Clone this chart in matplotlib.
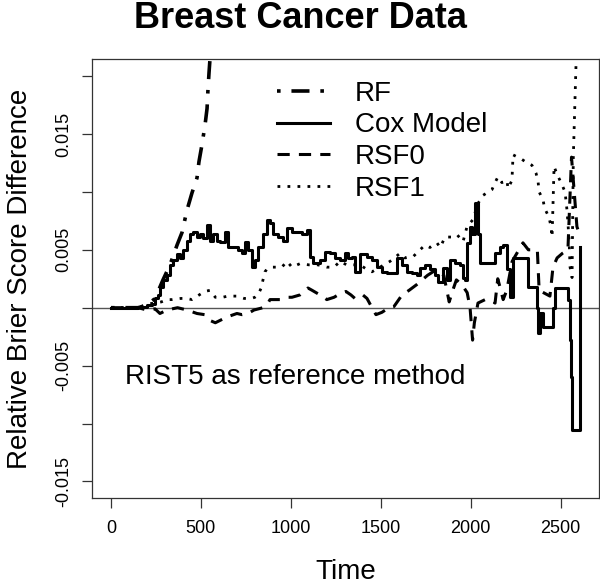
import matplotlib
matplotlib.use("Agg")
import matplotlib.pyplot as plt

plt.rcParams['font.family'] = ['Liberation Sans', 'DejaVu Sans']

# Cox model (step curve)
cox_t = [0, 100, 150, 200, 228, 245, 260, 272, 289, 311,
         328, 345, 367, 384, 400, 422, 439, 456, 478, 495,
         511, 534, 550, 567, 589, 606, 634, 650, 678, 706,
         728, 745, 762, 784, 800, 817, 845, 867, 884, 901,
         928, 956, 978, 1006, 1034, 1062, 1090, 1106, 1123, 1145,
         1162, 1190, 1217, 1245, 1273, 1301, 1317, 1340, 1356, 1384,
         1423, 1451, 1479, 1506, 1534, 1568, 1590, 1618, 1645, 1673,
         1701, 1718, 1745, 1773, 1801, 1818, 1846, 1868, 1885, 1912,
         1940, 1957, 1968, 1979, 1996, 2007, 2024, 2040, 2051, 2135,
         2162, 2179, 2201, 2218, 2235, 2318, 2368, 2374, 2385, 2402,
         2457, 2468, 2541, 2552, 2558, 2563, 2607]
cox_y = [0, 0, 0.0001, 0.0002, 0.0003, 0.0008, 0.0011, 0.0018, 0.0024, 0.0028,
         0.0037, 0.0041, 0.0046, 0.0043, 0.0050, 0.0058, 0.0064, 0.0065, 0.0061, 0.0064,
         0.0060, 0.0071, 0.0058, 0.0064, 0.0058, 0.0057, 0.0065, 0.0052, 0.0052, 0.0050,
         0.0047, 0.0057, 0.0050, 0.0035, 0.0041, 0.0052, 0.0064, 0.0076, 0.0073, 0.0064,
         0.0061, 0.0058, 0.0069, 0.0065, 0.0065, 0.0064, 0.0067, 0.0044, 0.0039, 0.0039,
         0.0041, 0.0048, 0.0047, 0.0043, 0.0041, 0.0047, 0.0043, 0.0044, 0.0031, 0.0046,
         0.0044, 0.0041, 0.0035, 0.0031, 0.0030, 0.0030, 0.0043, 0.0037, 0.0031, 0.0030,
         0.0028, 0.0034, 0.0037, 0.0033, 0.0028, 0.0022, 0.0034, 0.0024, 0.0041, 0.0039,
         0.0037, 0.0026, 0.0024, 0.0056, 0.0070, 0.0064, 0.0090, 0.0064, 0.0039, 0.0047,
         0.0052, 0.0054, 0.0033, 0.0009, 0.0043, 0.0018, 0.0000, -0.0022, -0.0005, -0.0017,
         0.0000, 0.0017, 0.0007, -0.0028, -0.0060, -0.0106, 0.0052]

# RF
rf_t = [0, 150, 200, 245, 289, 328, 367, 395, 422, 450,
        478, 489, 506, 523, 534, 539, 545, 550, 600]
rf_y = [0, 0, 0.0002, 0.0008, 0.0024, 0.0037, 0.0054, 0.0065, 0.0084, 0.0099,
        0.0112, 0.0126, 0.0141, 0.0158, 0.0172, 0.0188, 0.0203, 0.0214, 0.0300]

# RSF0
rsf0_t = [0, 150, 200, 245, 272, 311, 370, 422, 478, 520,
          550, 580, 606, 645, 700, 728, 762, 795, 845, 873,
          884, 940, 978, 1006, 1050, 1095, 1118, 1162, 1200, 1240,
          1262, 1306, 1334, 1356, 1400, 1423, 1451, 1473, 1506, 1545,
          1573, 1618, 1657, 1700, 1760, 1800, 1850, 1880, 1900, 1920,
          1950, 1980, 1996, 2010, 2020, 2040, 2080, 2124, 2135, 2150,
          2162, 2180, 2200, 2230, 2290, 2320, 2370, 2380, 2440, 2457,
          2480, 2510, 2540, 2560, 2575, 2590, 2607]
rsf0_y = [0, 0, -0.0002, -0.0001, -0.0005, -0.0002, 0, -0.0002, -0.0005, -0.0006,
          -0.0011, -0.0013, -0.0011, -0.0008, -0.0005, -0.0006, -0.0005, -0.0002, 0, 0.0004,
          0.0007, 0.0007, 0.0009, 0.0009, 0.0011, 0.0017, 0.0015, 0.0011, 0.0007, 0.0009,
          0.0011, 0.0014, 0.0011, 0.0008, 0.0011, 0.0008, 0, -0.0006, -0.0004, 0,
          0.0001, 0.0011, 0.0015, 0.0020, 0.0028, 0.0032, 0.0028, 0.0005, 0.0015, 0.0024,
          0.0020, 0.0013, 0, -0.0028, -0.0013, 0.0004, 0.0007, 0.0005, 0.0004, 0.0025,
          0.0018, 0.0007, 0.0015, 0.0040, 0.0056, 0.0050, 0.0050, 0.0015, 0.0010, 0.0035,
          0.0043, 0.0047, 0.0050, 0.0130, 0.0100, 0.0070, 0.0062]

# RSF1
rsf1_t = [0, 150, 200, 280, 311, 340, 389, 420, 450, 520,
          550, 580, 620, 650, 700, 740, 780, 800, 817, 835,
          845, 856, 870, 900, 950, 978, 1006, 1050, 1100, 1150,
          1200, 1240, 1273, 1310, 1340, 1384, 1423, 1451, 1551, 1607,
          1634, 1679, 1718, 1745, 1773, 1812, 1830, 1857, 1896, 1924,
          1957, 1979, 2012, 2040, 2068, 2118, 2135, 2151, 2173, 2201,
          2207, 2229, 2235, 2285, 2313, 2340, 2363, 2374, 2380, 2402,
          2410, 2435, 2446, 2452, 2463, 2480, 2502, 2524, 2535, 2546,
          2552, 2563, 2570, 2585, 2595]
rsf1_y = [0, 0, 0.0003, 0.0005, 0.0007, 0.0007, 0.0008, 0.0008, 0.0007, 0.0014,
          0.0015, 0.0009, 0.0009, 0.0010, 0.0010, 0.0008, 0.0008, 0.0009, 0.0011, 0.0017,
          0.0024, 0.0031, 0.0034, 0.0035, 0.0035, 0.0040, 0.0035, 0.0038, 0.0037, 0.0037,
          0.0035, 0.0035, 0.0040, 0.0037, 0.0037, 0.0037, 0.0033, 0.0031, 0.0040, 0.0047,
          0.0043, 0.0044, 0.0050, 0.0054, 0.0052, 0.0056, 0.0052, 0.0061, 0.0061, 0.0063,
          0.0057, 0.0070, 0.0076, 0.0090, 0.0097, 0.0102, 0.0108, 0.0113, 0.0108, 0.0110,
          0.0103, 0.0110, 0.0132, 0.0128, 0.0125, 0.0123, 0.0116, 0.0109, 0.0100, 0.0093,
          0.0086, 0.0078, 0.0070, 0.0061, 0.0122, 0.0115, 0.0108, 0.0100, 0.0084, 0.0060,
          0.0035, 0.0026, 0.0130, 0.0210, 0.0260]

x_ticks = [0, 500, 1000, 1500, 2000, 2500]
y_ticks = [-0.015, -0.01, -0.005, 0, 0.005, 0.01, 0.015, 0.02]
y_labels = ['-0.015', '', '-0.005', '', '0.005', '', '0.015', '']

fig = plt.figure(figsize=(6, 5.84), dpi=100)
ax = fig.add_axes([0.1538, 0.1473, 0.844, 0.7512])

ax.axhline(0, color='#555555', lw=1.0)
l_rf, = ax.plot(rf_t, rf_y, color='black', lw=2.6, linestyle=(0, (1, 3, 5, 3)),
                dash_capstyle='butt', label='RF')
l_cox, = ax.step(cox_t, cox_y, where='post', color='black', lw=2.2, label='Cox Model')
l_r0, = ax.plot(rsf0_t, rsf0_y, color='black', lw=2.2, linestyle=(0, (4, 3)),
                dash_capstyle='butt', label='RSF0')
l_r1, = ax.plot(rsf1_t, rsf1_y, color='black', lw=2.0, linestyle=(0, (1, 2.6)),
                dash_capstyle='butt', label='RSF1')

ax.set_xlim(-104, 2711)
ax.set_ylim(-0.01643, 0.02145)
ax.set_xticks(x_ticks)
ax.set_xticklabels([str(v) for v in x_ticks], fontsize=13)
ax.set_yticks(y_ticks)
ax.set_yticklabels(y_labels, fontsize=13, rotation=90, va='center')
ax.tick_params(direction='out', length=7.2, width=0.9, color='#333333')
ax.tick_params(axis='x', pad=9)
ax.tick_params(axis='y', pad=7)
for s in ax.spines.values():
    s.set_color('#333333')
    s.set_linewidth(0.9)

ax.text(78, -0.0060, 'RIST5 as reference method', fontsize=20, ha='left', va='center')

ax.legend(handles=[l_rf, l_cox, l_r0, l_r1], loc='upper left',
          bbox_to_anchor=(0.327, 0.995), frameon=False, fontsize=20,
          handlelength=1.9, handletextpad=0.9, labelspacing=0.2,
          borderaxespad=0.3)

fig.text(0.5, 1 - 18 / 584, 'Breast Cancer Data', fontsize=26, fontweight='bold',
         ha='center', va='center')
fig.text(0.5 * (0.1538 + 0.9978), 1 - 572 / 584, 'Time', fontsize=20, ha='center', va='center')
fig.text(20 / 600, 0.1473 + 0.7512 / 2, 'Relative Brier Score Difference', fontsize=20,
         rotation=90, ha='center', va='center')

fig.savefig('out.png', dpi=100)
